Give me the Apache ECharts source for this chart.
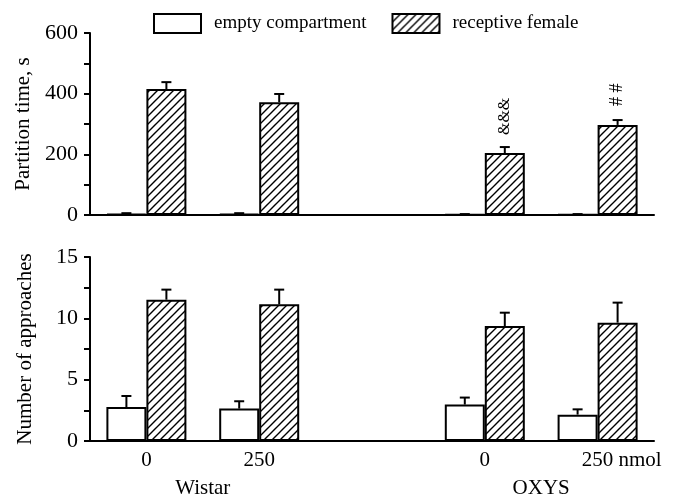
<!DOCTYPE html>
<html>
<head>
<meta charset="utf-8">
<script src="https://cdn.jsdelivr.net/npm/echarts@6/dist/echarts.min.js"></script>
<style>html,body{margin:0;padding:0;background:#fff}#c{width:680px;height:500px}</style>
</head>
<body>
<div id="c"></div>
<script>
// ---- data ----
const CATEGORIES = ['0', '250', '', '0', '250 nmol'];
const SERIES_NAMES = ['empty compartment', 'receptive female'];
const TIME_EMPTY = [4, 4, null, 2, 2];
const TIME_EMPTY_ERR = [2, 2, null, 1, 1];
const TIME_FEMALE = [415, 372, null, 204, 297];
const TIME_FEMALE_ERR = [23, 27, null, 20, 16];
const APPR_EMPTY = [2.77, 2.64, null, 2.97, 2.15];
const APPR_EMPTY_ERR = [0.9, 0.6, null, 0.57, 0.43];
const APPR_FEMALE = [11.52, 11.14, null, 9.37, 9.65];
const APPR_FEMALE_ERR = [0.82, 1.2, null, 1.09, 1.63];
const TIME_MARKS = ['', '', '', '&&&', '# #'];
const TIME_TICK_LABELS = [0, 200, 400, 600];
const APPR_TICK_LABELS = [0, 5, 10, 15];
const GROUP_NAMES = ['Wistar', 'OXYS'];
const GROUP_MEMBERS = [[0, 1], [3, 4]];

// ---- style ----
const FONT = 'Liberation Serif';
const BAR_W = 40;
const CAP = 5;

function hatch() {
  const c = document.createElement('canvas');
  c.width = 8; c.height = 8;
  const g = c.getContext('2d');
  g.fillStyle = '#fff'; g.fillRect(0, 0, 8, 8);
  g.strokeStyle = '#000'; g.lineWidth = 1.4;
  g.beginPath();
  g.moveTo(-1, 9); g.lineTo(9, -1);
  g.moveTo(-1, 1); g.lineTo(1, -1);
  g.moveTo(7, 9); g.lineTo(9, 7);
  g.stroke();
  return c;
}
const HATCH = { image: hatch(), repeat: 'repeat' };

const chart = echarts.init(document.getElementById('c'));

function errSeries(gi, vals, errs, side, marks) {
  return {
    type: 'custom',
    xAxisIndex: gi, yAxisIndex: gi,
    silent: true,
    z: 3,
    data: vals.map((v, i) => [i, v, errs[i]]).filter(d => d[1] != null),
    renderItem: function (params, api) {
      const i = api.value(0), v = api.value(1), e = api.value(2);
      const p0 = api.coord([i, v]);
      const p1 = api.coord([i, v + e]);
      const x = p0[0] + side * BAR_W / 2;
      const children = [
        { type: 'line', shape: { x1: x, y1: p0[1], x2: x, y2: p1[1] }, style: { stroke: '#000', lineWidth: 2 } },
        { type: 'line', shape: { x1: x - CAP, y1: p1[1], x2: x + CAP, y2: p1[1] }, style: { stroke: '#000', lineWidth: 2 } }
      ];
      const m = marks ? marks[i] : '';
      if (m) {
        const hash = m.indexOf('#') >= 0;
        children.push({ type: 'text', x: x, y: p1[1] - (hash ? 14 : 12), rotation: Math.PI / 2,
          style: { text: m, fontFamily: FONT, fontSize: hash ? 18 : 16, fill: '#000', align: 'left', verticalAlign: 'middle' } });
      }
      return { type: 'group', children: children };
    }
  };
}

function xAxis(gi, showLabels) {
  return {
    type: 'category', gridIndex: gi,
    data: CATEGORIES.map(c => c === '250 nmol' ? { value: c, textStyle: { padding: [0, 0, 0, 48] } } : c),
    axisLine: { lineStyle: { color: '#000', width: 2 } },
    axisTick: { show: false },
    axisLabel: { show: showLabels, fontFamily: FONT, fontSize: 21, color: '#000', margin: 9, interval: 0 }
  };
}
function yAxis(gi, name, max, interval, labels) {
  return {
    type: 'value', gridIndex: gi, min: 0, max: max, interval: interval,
    name: name, nameLocation: 'middle', nameGap: 54,
    nameTextStyle: { fontFamily: FONT, fontSize: 21, color: '#000' },
    axisLine: { show: true, lineStyle: { color: '#000', width: 2 } },
    axisTick: { show: true, length: 6, lineStyle: { color: '#000', width: 2 } },
    splitLine: { show: false },
    axisLabel: { fontFamily: FONT, fontSize: 22, color: '#000', margin: 12,
      formatter: v => labels.indexOf(v) >= 0 ? String(v) : '' }
  };
}
function bar(gi, name, vals, color) {
  return {
    type: 'bar', name: name, xAxisIndex: gi, yAxisIndex: gi,
    data: vals, barWidth: BAR_W, barGap: '0%',
    itemStyle: { color: color, borderColor: '#000', borderWidth: 2 },
    emphasis: { disabled: true }
  };
}

chart.setOption({
  animation: false,
  backgroundColor: '#fff',
  legend: {
    left: 153, top: 13, padding: 0, itemWidth: 47, itemHeight: 19, itemGap: 25,
    data: SERIES_NAMES,
    icon: 'rect',
    itemStyle: { borderColor: '#000', borderWidth: 2 },
    textStyle: { fontFamily: FONT, fontSize: 19, color: '#000', padding: [0, 0, 0, 8] }
  },
  grid: [
    { left: 90, right: 26, top: 33, height: 182 },
    { left: 90, right: 26, top: 257, height: 184 }
  ],
  xAxis: [xAxis(0, false), xAxis(1, true)],
  yAxis: [
    yAxis(0, 'Partition time, s', 600, 100, TIME_TICK_LABELS),
    yAxis(1, 'Number of approaches', 15, 2.5, APPR_TICK_LABELS)
  ],
  series: [
    bar(0, SERIES_NAMES[0], TIME_EMPTY, '#fff'),
    bar(0, SERIES_NAMES[1], TIME_FEMALE, HATCH),
    bar(1, SERIES_NAMES[0], APPR_EMPTY, '#fff'),
    bar(1, SERIES_NAMES[1], APPR_FEMALE, HATCH),
    errSeries(0, TIME_EMPTY, TIME_EMPTY_ERR, -1, null),
    errSeries(0, TIME_FEMALE, TIME_FEMALE_ERR, 1, TIME_MARKS),
    errSeries(1, APPR_EMPTY, APPR_EMPTY_ERR, -1, null),
    errSeries(1, APPR_FEMALE, APPR_FEMALE_ERR, 1, null)
  ]
});

const groupText = GROUP_NAMES.map((name, k) => {
  const xs = GROUP_MEMBERS[k].map(i => chart.convertToPixel({ xAxisIndex: 1 }, i));
  const cx = xs.reduce((a, b) => a + b, 0) / xs.length;
  return { type: 'text', x: cx, y: 488,
    style: { text: name, fontFamily: FONT, fontSize: 21, fill: '#000', align: 'center', verticalAlign: 'middle' } };
});
chart.setOption({ graphic: groupText });
</script>
</body>
</html>
